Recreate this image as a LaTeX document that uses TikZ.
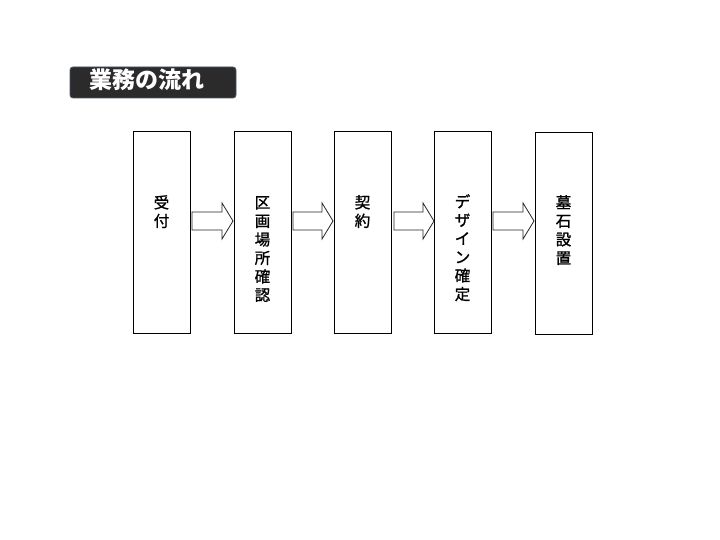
\documentclass[tikz,border=0pt]{standalone}
\usepackage{fontspec}
\newfontfamily\cjk{Noto Sans CJK JP}
\newfontfamily\cjkm[FakeBold=1.2]{Noto Sans CJK JP}
\usetikzlibrary{calc}
\definecolor{titlebg}{HTML}{2B2B2B}
\definecolor{titleline}{HTML}{4A5868}
\tikzset{
  stepbox/.style={draw=black, line width=0.9pt, fill=white, minimum width=57pt, minimum height=202pt, inner sep=0pt},
  steplabel/.style={anchor=north, align=center, font=\cjkm\fontsize{15.5pt}{18.5pt}\selectfont, inner sep=0pt},
  arrowshape/.style={draw=black!85, line width=0.8pt, fill=white, line join=miter},
  titlebox/.style={draw=titleline, line width=0.8pt, fill=titlebg, rounded corners=3pt, minimum width=166pt, minimum height=31pt, inner sep=0pt},
  titletext/.style={text=white, font=\cjk\bfseries\fontsize{23pt}{26pt}\selectfont, anchor=west, inner sep=0pt}
}
\newcommand\flowarrow[2]{%
  \draw[arrowshape] (#1,212) -- ({#2-11},212) -- ({#2-11},203) -- (#2,221) -- ({#2-11},239) -- ({#2-11},230) -- (#1,230) -- cycle;}
\begin{document}
\begin{tikzpicture}[x=1pt,y=-1pt]
\useasboundingbox (0,0) rectangle (720,540);
\fill[white] (0,0) rectangle (720,540);
% title
\node[titlebox] (title) at (153,82.5) {};
\node[titletext] (titlet) at (89,80) {業務の流れ};
% boxes
\node[stepbox] (b1) at (161.5,232) {};
\node[stepbox] (b2) at (262.5,232) {};
\node[stepbox] (b3) at (362.5,232.5) {};
\node[stepbox] (b4) at (462.5,232) {};
\node[stepbox] (b5) at (563.5,233) {};
% labels
\node[steplabel] (l1) at (161.5,195) {受\\付};
\node[steplabel] (l2) at (262.5,196) {区\\画\\場\\所\\確\\認};
\node[steplabel] (l3) at (362.5,195) {契\\約};
\node[steplabel] (l4) at (462.5,194) {デ\\ザ\\イ\\ン\\確\\定};
\node[steplabel] (l5) at (563.5,195) {墓\\石\\設\\置};
% arrows
\flowarrow{192}{233}
\flowarrow{293}{333}
\flowarrow{394}{434}
\flowarrow{493}{534}
\end{tikzpicture}
\end{document}
